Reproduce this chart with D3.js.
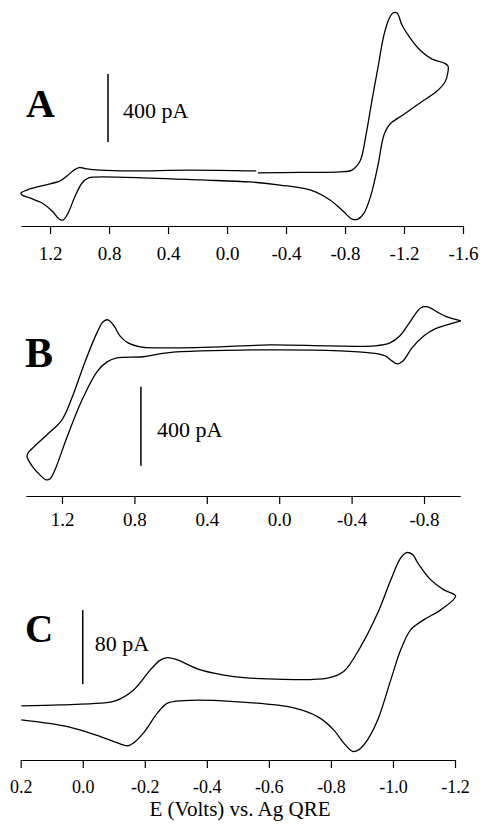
<!DOCTYPE html>
<html lang="en">
<head>
    <meta charset="UTF-8">
    <title>Cyclic voltammograms A, B, C</title>
    <script src="https://d3js.org/d3.v7.min.js"></script>
    <style>
        body {
            margin: 0;
            background: #fff;
        }
        svg text {
            font-family: "Liberation Serif", "Times New Roman", serif;
            fill: #000;
        }
        .cv {
            fill: none;
            stroke: #000;
            stroke-width: 1.3;
            stroke-linejoin: round;
        }
        .axis path, .axis line {
            stroke: #000;
            stroke-width: 1.2;
        }
        .panel-letter {
            font-weight: bold;
        }
    </style>
</head>
<body>
    <svg width="480" height="829"></svg>

    <script>
        // Panel A: potential (V) and current (pA), one scan
        const aVolts = [-0.21, -0.495, -0.766, -0.847, -0.902, -0.942, -0.983, -1.024, -1.064, -1.098, -1.125, -1.153,
            -1.186, -1.241, -1.308, -1.390, -1.471, -1.498, -1.498, -1.478, -1.424, -1.308, -1.193, -1.105, -1.064,
            -1.024, -0.976, -0.929, -0.888, -0.847, -0.786, -0.698, -0.563, -0.359, -0.156, 0.183, 0.522, 0.895, 0.942,
            0.983, 1.030, 1.078, 1.112, 1.139, 1.186, 1.254, 1.336, 1.390, 1.397, 1.336, 1.234, 1.132, 1.085, 1.037,
            1.003, 0.963, 0.861, 0.658, 0.251, -0.197];
        const aCurrent = [12, 15, 18, 29, 82, 235, 441, 635, 824, 918, 953, 953,
            882, 806, 735, 682, 659, 641, 606, 547, 494, 424, 353, 300, 235,
            59, -118, -224, -259, -259, -212, -147, -88, -59, -41, -29, -18, -12, -18,
            -47, -124, -224, -265, -259, -212, -165, -135, -118, -106, -82, -59, -35, -6, 29,
            44, 38, 29, 24, 29, 24];
        const aTicks = [1.2, 0.8, 0.4, 0.0, -0.4, -0.8, -1.2, -1.6];

        // Panel B
        const bVolts = [-1.004, -0.927, -0.872, -0.822, -0.783, -0.723, -0.667, -0.612, -0.529, -0.281, 0.051, 0.327,
            0.659, 0.769, 0.835, 0.880, 0.913, 0.946, 0.973, 1.007, 1.073, 1.145, 1.200, 1.277, 1.349, 1.388, 1.393,
            1.366, 1.322, 1.288, 1.266, 1.239, 1.172, 1.084, 1.007, 0.951, 0.896, 0.752, 0.620, 0.067, -0.336, -0.502,
            -0.585, -0.623, -0.651, -0.684, -0.734, -0.800, -0.861, -0.927, -1.004];
        const bCurrent = [147, 167, 192, 218, 213, 142, 71, 35, 20, 20, 25, 15,
            10, 15, 35, 71, 122, 152, 142, 86, -61, -243, -354, -425, -486, -522, -542,
            -587, -633, -658, -653, -608, -441, -243, -111, -61, -41, -35, -15, 0, -5, -15,
            -30, -56, -71, -56, 10, 71, 106, 127, 147];
        const bTicks = [1.2, 0.8, 0.4, 0.0, -0.4, -0.8];

        // Panel C
        const cVolts = [0.198, 0.072, -0.057, -0.105, -0.164, -0.218, -0.251, -0.273, -0.305, -0.380, -0.487, -0.596,
            -0.789, -0.841, -0.896, -0.951, -0.993, -1.025, -1.044, -1.064, -1.080, -1.122, -1.164, -1.202,
            -1.154, -1.099, -1.057, -1.025, -0.993, -0.951, -0.918, -0.889, -0.870, -0.841, -0.809, -0.757, -0.680,
            -0.487, -0.325, -0.273, -0.241, -0.196, -0.164, -0.144, -0.112, -0.057, 0.049, 0.198];
        const cCurrent = [-6.5, -5.4, -3.6, -1.1, 10.8, 32.4, 43.2, 45.7, 43.2, 32.4, 25.2, 22.7,
            23.5, 30.6, 57.6, 94.1, 129.7, 153.5, 159.2, 156.8, 148.1, 129.7, 118.9, 112.4,
            97.3, 86.5, 75.7, 54.1, 21.6, -21.6, -43.2, -54.1, -55.7, -46.5, -32.4, -18.1, -8.6,
            -1.8, -0.8, -3.6, -14.1, -35.7, -46.5, -49.7, -46.5, -39.7, -28.9, -21.6];
        const cTicks = [0.2, 0.0, -0.2, -0.4, -0.6, -0.8, -1.0, -1.2];

        const panelLetters = ["A", "B", "C"];
        const scaleBarLabels = ["400 pA", "400 pA", "80 pA"];
        const xTitle = "E (Volts) vs. Ag QRE";

        const svg = d3.select("svg");

        const panels = [
            {
                volts: aVolts, current: aCurrent, ticks: aTicks,
                xDomain: [1.397, -1.6], xRange: [21, 463],
                yDomain: [-300, 1000], yRange: [226, 5],
                axisY: 226, labelY: 34, tickFont: 19,
                bar: {v: 0.807, from: 194, to: 594},
                letter: {x: 26, y: 117, size: 40},
                barLabel: {dx: 15, y: 118}
            },
            {
                volts: bVolts, current: bCurrent, ticks: bTicks,
                xDomain: [1.4, -1.0], xRange: [25.8, 460.2],
                yDomain: [-740, 260], yRange: [496, 298.5],
                axisY: 496, labelY: 30, tickFont: 19,
                bar: {v: 0.764, from: -587, to: -187},
                letter: {x: 25, y: 367, size: 42},
                barLabel: {dx: 16, y: 437}
            },
            {
                volts: cVolts, current: cCurrent, ticks: cTicks,
                xDomain: [0.2, -1.2], xRange: [20.7, 455],
                yDomain: [-65, 175], yRange: [760, 538],
                axisY: 760, labelY: 33, tickFont: 18,
                bar: {v: 0.0, from: 17, to: 97},
                letter: {x: 25, y: 642, size: 39},
                barLabel: {dx: 12, y: 651}
            }
        ];

        panels.forEach((p, i) => {
            const x = d3.scaleLinear().domain(p.xDomain).range(p.xRange);
            const y = d3.scaleLinear().domain(p.yDomain).range(p.yRange);
            const pts = p.volts.map((v, j) => [v, p.current[j]]);

            const line = d3.line()
                .x(d => x(d[0]))
                .y(d => y(d[1]))
                .curve(d3.curveCatmullRom.alpha(0.5));

            svg.append("path")
                .datum(pts)
                .attr("class", "cv")
                .attr("d", line);

            // axis
            const ax = svg.append("g")
                .attr("class", "axis")
                .attr("transform", `translate(0,${p.axisY})`)
                .call(d3.axisBottom(x)
                    .tickValues(p.ticks)
                    .tickSize(8)
                    .tickSizeOuter(0)
                    .tickFormat(d => d.toFixed(1)));
            ax.selectAll("text")
                .attr("y", p.labelY)
                .attr("dy", null)
                .style("font-size", p.tickFont + "px")
                .style("font-family", '"Liberation Serif", serif');

            // scale bar
            svg.append("line")
                .attr("x1", x(p.bar.v)).attr("x2", x(p.bar.v))
                .attr("y1", y(p.bar.from)).attr("y2", y(p.bar.to))
                .attr("stroke", "#000")
                .attr("stroke-width", 1.5);

            svg.append("text")
                .attr("x", x(p.bar.v) + p.barLabel.dx)
                .attr("y", p.barLabel.y)
                .style("font-size", "22px")
                .text(scaleBarLabels[i]);

            svg.append("text")
                .attr("class", "panel-letter")
                .attr("x", p.letter.x)
                .attr("y", p.letter.y)
                .style("font-size", p.letter.size + "px")
                .text(panelLetters[i]);
        });

        svg.append("text")
            .attr("x", 240)
            .attr("y", 816)
            .attr("text-anchor", "middle")
            .style("font-size", "21px")
            .text(xTitle);
    </script>
</body>
</html>
